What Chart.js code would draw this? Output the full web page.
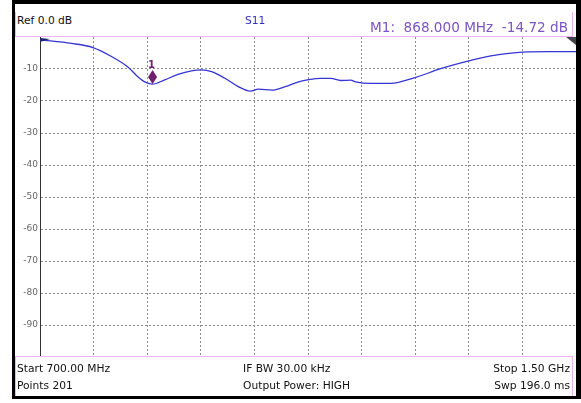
<!DOCTYPE html>
<html>
<head>
<meta charset="utf-8">
<script src="https://cdn.jsdelivr.net/npm/chart.js@4.4.1/dist/chart.umd.min.js"></script>
<style>
  html, body { margin:0; padding:0; background:#fff; width:581px; height:403px; overflow:hidden; }
  body { position:relative; font-family:"DejaVu Sans", sans-serif; }
  #frame { position:absolute; left:12px; top:0; width:569px; height:399px; box-sizing:border-box;
           border-left:3px solid #000; border-top:4px solid #000; border-right:5px solid #000; border-bottom:3px solid #000; }
  #header { position:absolute; left:15px; top:12px; width:558px; height:25px; box-sizing:border-box;
            border-left:1px solid #f0b0f0; border-right:1px solid #f0b0f0; border-bottom:1px solid #f0b0f0; z-index:3; background:transparent; }
  #footer { position:absolute; left:15px; top:356px; width:558px; height:40px; box-sizing:border-box;
            border-left:1px solid #f0b0f0; border-right:1px solid #f0b0f0; border-top:1px solid #f0b0f0; z-index:3; background:#fff; }
  .t { position:absolute; white-space:pre; font-size:10.7px; color:#111; line-height:12px; }
  #chartWrap { position:absolute; left:15px; top:37px; width:561px; height:320px; }
</style>
</head>
<body>
<div id="chartWrap"><canvas id="c" width="561" height="320"></canvas></div>
<div id="header"></div>
<div class="t" style="left:17px; top:15px;">Ref 0.0 dB</div>
<div class="t" style="left:245px; top:15px; color:#3030c8;">S11</div>
<div class="t" style="left:370px; top:19px; font-size:13.6px; line-height:16px; color:#7b55c0;">M1:  868.000 MHz  -14.72 dB</div>
<div id="footer"></div>
<div class="t" style="left:17px; top:363px; z-index:4;">Start 700.00 MHz</div>
<div class="t" style="left:17px; top:380px; z-index:4;">Points 201</div>
<div class="t" style="left:243px; top:363px; z-index:4;">IF BW 30.00 kHz</div>
<div class="t" style="left:243px; top:380px; z-index:4;">Output Power: HIGH</div>
<div class="t" style="right:11px; top:363px; z-index:4;">Stop 1.50 GHz</div>
<div class="t" style="right:11px; top:380px; z-index:4;">Swp 196.0 ms</div>
<div id="frame"></div>
<script>
const freqs = [700, 747, 779, 806, 832, 846, 858, 868, 886, 906, 926, 941, 956, 976, 996, 1014, 1026, 1046, 1066, 1086, 1101, 1119, 1134, 1149, 1164, 1171, 1194, 1223, 1261, 1298, 1343, 1373, 1421, 1463, 1500];
const s11 = [-0.9, -2.0, -3.3, -6.0, -9.5, -12.4, -14.2, -14.72, -13.4, -11.7, -10.6, -10.3, -10.8, -12.9, -15.5, -16.9, -16.3, -16.6, -15.5, -14.0, -13.3, -12.9, -12.9, -13.6, -13.5, -14.0, -14.5, -14.5, -12.6, -9.9, -7.3, -5.9, -4.7, -4.6, -4.6];
const markerFreq = 868;
const markerVal = -14.72;
const markerLabel = "1";
const freqStart = 700, freqStop = 1500, freqStep = 80;
const dbTop = 0, dbBottom = -100, dbStep = 10;

function noPad(s) { s.paddingTop = 0; s.paddingBottom = 0; s.paddingLeft = 0; s.paddingRight = 0; }

const markerPlugin = {
  id: 'markerPlugin',
  afterDatasetsDraw(chart) {
    const ctx = chart.ctx;
    const xs = chart.scales.x, ys = chart.scales.y;
    const px = xs.getPixelForValue(markerFreq), py = ys.getPixelForValue(markerVal);
    ctx.save();
    ctx.fillStyle = '#6e1f6e';
    ctx.beginPath();
    ctx.moveTo(px, py);
    ctx.lineTo(px + 4.5, py - 7);
    ctx.lineTo(px, py - 14);
    ctx.lineTo(px - 4.5, py - 7);
    ctx.closePath();
    ctx.fill();
    ctx.font = 'bold 10px "DejaVu Sans"';
    ctx.textAlign = 'center';
    ctx.textBaseline = 'bottom';
    ctx.fillText(markerLabel, px - 1, py - 14);
    const lx = xs.getPixelForValue(freqStart), ty = ys.getPixelForValue(dbTop);
    ctx.fillStyle = '#1c2a6e';
    ctx.beginPath();
    ctx.moveTo(lx, ty + 1);
    ctx.lineTo(lx + 10, ty + 2);
    ctx.lineTo(lx, ty + 5);
    ctx.closePath();
    ctx.fill();
    const rx = xs.getPixelForValue(freqStop);
    ctx.fillStyle = '#444';
    ctx.beginPath();
    ctx.moveTo(rx, ty);
    ctx.lineTo(rx - 10, ty);
    ctx.lineTo(rx, ty + 8);
    ctx.closePath();
    ctx.fill();
    ctx.restore();
  }
};

new Chart(document.getElementById('c'), {
  type: 'line',
  data: {
    datasets: [{
      data: freqs.map((f, i) => ({ x: f, y: s11[i] })),
      borderColor: '#3535d2',
      borderWidth: 1.3,
      pointRadius: 0,
      cubicInterpolationMode: 'monotone',
      fill: false
    }]
  },
  options: {
    responsive: false,
    animation: false,
    layout: { padding: 0 },
    plugins: { legend: { display: false }, tooltip: { enabled: false } },
    scales: {
      x: {
        type: 'linear', min: freqStart, max: freqStop,
        ticks: { display: false, stepSize: freqStep },
        grid: { color: '#8c8c8c', lineWidth: 1, drawTicks: false },
        border: { display: false, dash: [2, 2] },
        afterFit(s) { s.height = 0; noPad(s); }
      },
      y: {
        min: dbBottom, max: dbTop,
        ticks: {
          stepSize: dbStep, padding: 2, color: '#666',
          font: { family: 'DejaVu Sans', size: 9 },
          callback: v => (v === dbTop || v === dbBottom) ? null : String(v)
        },
        grid: { color: '#8c8c8c', lineWidth: 1, drawTicks: false },
        border: { display: true, color: '#333', width: 1, dash: [2, 2] },
        afterFit(s) { s.width = 25; noPad(s); }
      }
    }
  },
  plugins: [markerPlugin]
});
</script>
</body>
</html>
